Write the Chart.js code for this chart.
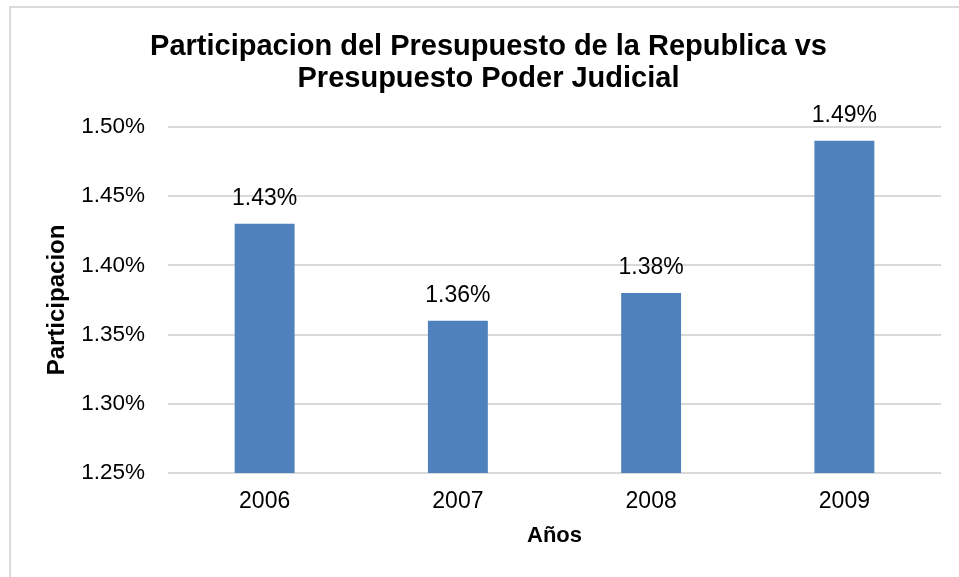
<!DOCTYPE html>
<html>
<head>
<meta charset="utf-8">
<script src="https://cdn.jsdelivr.net/npm/chart.js@4/dist/chart.umd.min.js"></script>
<style>
  html, body { margin: 0; padding: 0; background: #ffffff; overflow: hidden; }
  #frame { position: absolute; left: 9px; top: 6px; width: 1200px; height: 1200px; border: 2px solid #dadada; box-sizing: border-box; }
  #wrap { position: absolute; left: 0; top: 0; width: 959px; height: 577px; }
</style>
</head>
<body>
<div id="frame"></div>
<div id="wrap"><canvas id="c" width="959" height="577"></canvas></div>
<script>
const categories = ['2006', '2007', '2008', '2009'];
const participacion = [1.43, 1.36, 1.38, 1.49];
const yTickMin = 1.25;
const yTickMax = 1.50;
const yTickStep = 0.05;
const chartTitle = ['Participacion del Presupuesto de la Republica vs', 'Presupuesto Poder Judicial'];
const xTitle = 'Años';
const yTitle = 'Participacion';

const FONT = "'Liberation Sans', Arial, sans-serif";

const dataLabels = {
  id: 'dataLabels',
  afterDatasetsDraw(chart) {
    const ctx = chart.ctx;
    const meta = chart.getDatasetMeta(0);
    ctx.save();
    ctx.font = '23px ' + FONT;
    ctx.fillStyle = '#000000';
    ctx.textAlign = 'center';
    ctx.textBaseline = 'middle';
    meta.data.forEach((bar, i) => {
      const v = chart.data.datasets[0].data[i];
      ctx.fillText(v.toFixed(2) + '%', bar.x, bar.y - 25);
    });
    ctx.restore();
  }
};

new Chart(document.getElementById('c'), {
  type: 'bar',
  data: {
    labels: categories,
    datasets: [{
      data: participacion,
      backgroundColor: '#4F81BD',
      borderWidth: 0,
      categoryPercentage: 1.0,
      barPercentage: 0.31
    }]
  },
  options: {
    responsive: false,
    animation: false,
    devicePixelRatio: 1,
    layout: { padding: { left: 36, right: 18, top: 0, bottom: 0 } },
    plugins: {
      legend: { display: false },
      tooltip: { enabled: false },
      title: {
        display: true,
        text: chartTitle,
        color: '#000000',
        font: { family: FONT, size: 29, weight: 'bold', lineHeight: 1.103 },
        padding: { top: 31, bottom: 32 }
      }
    },
    scales: {
      x: {
        grid: { display: false, drawTicks: false },
        border: { display: false },
        ticks: { color: '#000000', font: { family: FONT, size: 23 }, padding: 15, maxRotation: 0 },
        title: {
          display: true, text: xTitle, color: '#000000',
          font: { family: FONT, size: 22, weight: 'bold' },
          padding: { top: 0, bottom: 28 }
        },
        afterFit(scale) { scale.height = 104; }
      },
      y: {
        min: yTickMin,
        max: yTickMax,
        grid: { color: '#d9d9d9', lineWidth: 2, drawTicks: false },
        border: { display: false },
        ticks: {
          stepSize: yTickStep,
          color: '#000000',
          font: { family: FONT, size: 22.5 },
          padding: 23,
          callback: (v) => Number(v).toFixed(2) + '%'
        },
        title: {
          display: true, text: yTitle, color: '#000000',
          font: { family: FONT, size: 24, weight: 'bold' },
          padding: { top: 7, bottom: 0 }
        },
        afterFit(scale) { scale.width = 132; }
      }
    }
  },
  plugins: [dataLabels]
});
</script>
</body>
</html>
